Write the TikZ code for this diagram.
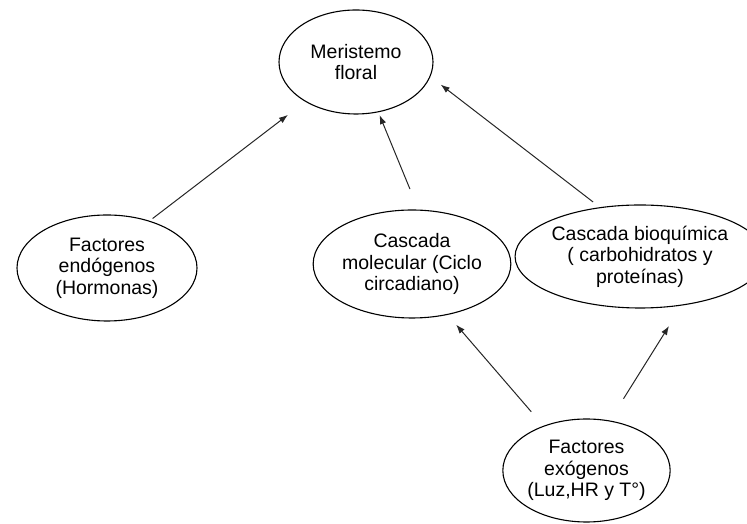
\documentclass[tikz,border=0pt]{standalone}
\usepackage{fontspec}
\setmainfont{Liberation Sans}
\usetikzlibrary{shapes.geometric,arrows.meta}
\begin{document}
\begin{tikzpicture}[x=1pt,y=1pt,
  oval/.style={ellipse,draw=black,line width=1.1pt,inner sep=0pt,outer sep=0pt,
    align=center,font=\fontsize{19.5}{21.5}\selectfont},
  conn/.style={draw=black!85,line width=1pt,-{Latex[length=9pt,width=6.5pt]}}]
\useasboundingbox (0,0) rectangle (747,524);
\node[oval,minimum width=154pt,minimum height=104pt] (meri) at (356,462) {Meristemo\\floral};
\node[oval,minimum width=180pt,minimum height=106pt] (endo) at (107,256) {Factores\\endógenos\\(Hormonas)};
\node[oval,minimum width=180pt,minimum height=108pt] (mol) at (412,260) {Cascada\\molecular (Ciclo\\circadiano)};
\node[oval,minimum width=213pt,minimum height=103pt] (bio) at (640,267.5) {Cascada bioquímica\\( carbohidratos y\\proteínas)};
\node[oval,minimum width=153pt,minimum height=103pt] (exo) at (586.5,53.5) {Factores\\exógenos\\(Luz,HR y T°)};
\draw[conn,shorten <=4.3pt,shorten >=22.3pt] (endo.48.75) -- (meri.218.4);
\draw[conn,shorten <=22.8pt,shorten >=3.6pt] (mol.83) -- (meri.294.5);
\draw[conn,shorten <=9.3pt,shorten >=13.5pt] (bio.129.7) -- (meri.349.6);
\draw[conn,shorten <=19.1pt,shorten >=13.5pt] (exo.134.4) -- (mol.305.3);
\draw[conn,shorten <=26.3pt,shorten >=24.8pt] (exo.65.3) -- (bio.311.6);
\end{tikzpicture}
\end{document}
